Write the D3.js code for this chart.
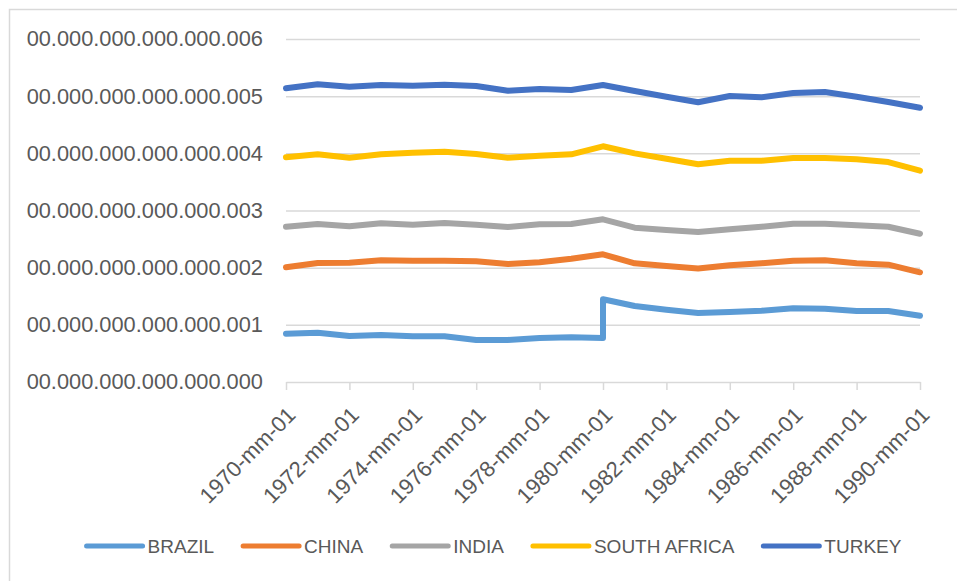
<!DOCTYPE html>
<html>
<head>
<meta charset="utf-8">
<script src="https://cdn.jsdelivr.net/npm/d3@7"></script>
<style>
  body { margin: 0; background: #fff; }
  text { font-family: "Liberation Sans", Arial, sans-serif; fill: #595959; }
</style>
</head>
<body>
<div id="chart"></div>
<script>
//x positions: 1980 appears twice because Brazil jumps at that date
var years = [1970, 1971, 1972, 1973, 1974, 1975, 1976, 1977, 1978, 1979, 1980, 1980,
  1981, 1982, 1983, 1984, 1985, 1986, 1987, 1988, 1989, 1990];

var brazil = [0.000845, 0.000862, 0.000805, 0.000822, 0.000799, 0.000799, 0.000735, 0.000735,
  0.000770, 0.000782, 0.000770, 0.001447, 0.001329, 0.001265, 0.001207, 0.001224, 0.001247,
  0.001289, 0.001282, 0.001242, 0.001242, 0.001160];
var china = [0.002006, 0.002082, 0.002087, 0.002129, 0.002122, 0.002122, 0.002111, 0.002064,
  0.002094, 0.002157, 0.002234, 0.002234, 0.002076, 0.002031, 0.001984, 0.002041, 0.002076,
  0.002122, 0.002129, 0.002076, 0.002052, 0.001919];
var india = [0.002716, 0.002764, 0.002723, 0.002776, 0.002751, 0.002781, 0.002751, 0.002711,
  0.002758, 0.002764, 0.002846, 0.002846, 0.002699, 0.002659, 0.002624, 0.002671, 0.002716,
  0.002769, 0.002769, 0.002741, 0.002716, 0.002594];
var southAfrica = [0.003930, 0.003983, 0.003923, 0.003983, 0.004011, 0.004028, 0.003988, 0.003923,
  0.003958, 0.003983, 0.004123, 0.004123, 0.004000, 0.003906, 0.003808, 0.003871, 0.003871,
  0.003918, 0.003918, 0.003895, 0.003848, 0.003696];
var turkey = [0.005137, 0.005207, 0.005165, 0.005195, 0.005183, 0.005200, 0.005178, 0.005095,
  0.005125, 0.005108, 0.005195, 0.005195, 0.005090, 0.004990, 0.004893, 0.005003, 0.004980,
  0.005055, 0.005073, 0.004990, 0.004898, 0.004798];

var seriesNames = ["BRAZIL", "CHINA", "INDIA", "SOUTH AFRICA", "TURKEY"];
var seriesValues = [brazil, china, india, southAfrica, turkey];
var seriesColors = ["#5B9BD5", "#ED7D31", "#A5A5A5", "#FFC000", "#4472C4"];

var yTicks = [0, 0.001, 0.002, 0.003, 0.004, 0.005, 0.006];
var yTickLabels = ["00.000.000.000.000.000", "00.000.000.000.000.001", "00.000.000.000.000.002",
  "00.000.000.000.000.003", "00.000.000.000.000.004", "00.000.000.000.000.005", "00.000.000.000.000.006"];
var xTicks = [1970, 1972, 1974, 1976, 1978, 1980, 1982, 1984, 1986, 1988, 1990];
var xTickLabels = ["1970-mm-01", "1972-mm-01", "1974-mm-01", "1976-mm-01", "1978-mm-01", "1980-mm-01",
  "1982-mm-01", "1984-mm-01", "1986-mm-01", "1988-mm-01", "1990-mm-01"];

var W = 957, H = 581;
var plot = {left: 286, right: 920, top: 39, bottom: 382};

var svg = d3.select("#chart").append("svg")
  .attr("width", W)
  .attr("height", H);

//chart area border (only top and left are visible)
svg.append("rect")
  .attr("x", 9.5).attr("y", 9.5)
  .attr("width", 1000).attr("height", 1000)
  .attr("fill", "none")
  .attr("stroke", "#d9d9d9")
  .attr("stroke-width", 1.5);

var x = d3.scaleLinear().domain([1970, 1990]).range([plot.left, plot.right]);
var y = d3.scaleLinear().domain([0, 0.006]).range([plot.bottom, plot.top]);

//gridlines + y labels
var yAxis = d3.axisLeft(y)
  .tickValues(yTicks)
  .tickSize(-(plot.right - plot.left))
  .tickPadding(23)
  .tickFormat(function(d, i) { return yTickLabels[i]; });

var gy = svg.append("g")
  .attr("transform", "translate(" + plot.left + ",0)")
  .call(yAxis);
gy.select(".domain").remove();
gy.selectAll(".tick line")
  .attr("stroke", "#d9d9d9")
  .attr("stroke-width", 1.5)
  .attr("display", function(d) { return d === 0 ? "none" : null; });
gy.selectAll(".tick text")
  .attr("font-size", 21.8)
  .attr("fill", "#595959")
  .attr("font-family", "Liberation Sans, Arial, sans-serif");

//x axis
var xAxis = d3.axisBottom(x)
  .tickValues(xTicks)
  .tickSize(8)
  .tickSizeOuter(0)
  .tickFormat(function(d, i) { return xTickLabels[i]; });

var gx = svg.append("g")
  .attr("transform", "translate(0," + plot.bottom + ")")
  .call(xAxis);
gx.select(".domain").attr("stroke", "#d9d9d9").attr("stroke-width", 1.5);
gx.selectAll(".tick line").attr("stroke", "#d9d9d9").attr("stroke-width", 1.5);
gx.selectAll(".tick text")
  .attr("font-size", 22)
  .attr("fill", "#595959")
  .attr("font-family", "Liberation Sans, Arial, sans-serif")
  .attr("text-anchor", "end")
  .attr("y", 0)
  .attr("dy", "0.35em")
  .attr("transform", "translate(5,29) rotate(-45)");

//lines
var line = d3.line()
  .x(function(d) { return x(d[0]); })
  .y(function(d) { return y(d[1]); });

svg.append("g").attr("class", "lines")
  .selectAll("path")
  .data(seriesValues)
  .enter()
  .append("path")
  .attr("d", function(vals) { return line(vals.map(function(v, i) { return [years[i], v]; })); })
  .attr("fill", "none")
  .attr("stroke", function(d, i) { return seriesColors[i]; })
  .attr("stroke-width", 6)
  .attr("stroke-linejoin", "round")
  .attr("stroke-linecap", "round");

//legend
var legend = svg.append("g").attr("class", "legend");
var legendY = 546;
var items = legend.selectAll("g")
  .data(seriesNames)
  .enter()
  .append("g");

items.append("line")
  .attr("x1", 0).attr("x2", 56)
  .attr("y1", legendY).attr("y2", legendY)
  .attr("stroke", function(d, i) { return seriesColors[i]; })
  .attr("stroke-width", 5)
  .attr("stroke-linecap", "round");

items.append("text")
  .attr("x", 61)
  .attr("y", legendY)
  .attr("dy", "0.35em")
  .attr("font-size", 19)
  .text(function(d) { return d; });

var offsets = [], cur = 0;
items.each(function() {
  offsets.push(cur);
  cur += 61 + d3.select(this).select("text").node().getComputedTextLength() + 29;
});
var total = cur - 29;
var start = 494 - total / 2;
items.attr("transform", function(d, i) { return "translate(" + (start + offsets[i]) + ",0)"; });
</script>
</body>
</html>
